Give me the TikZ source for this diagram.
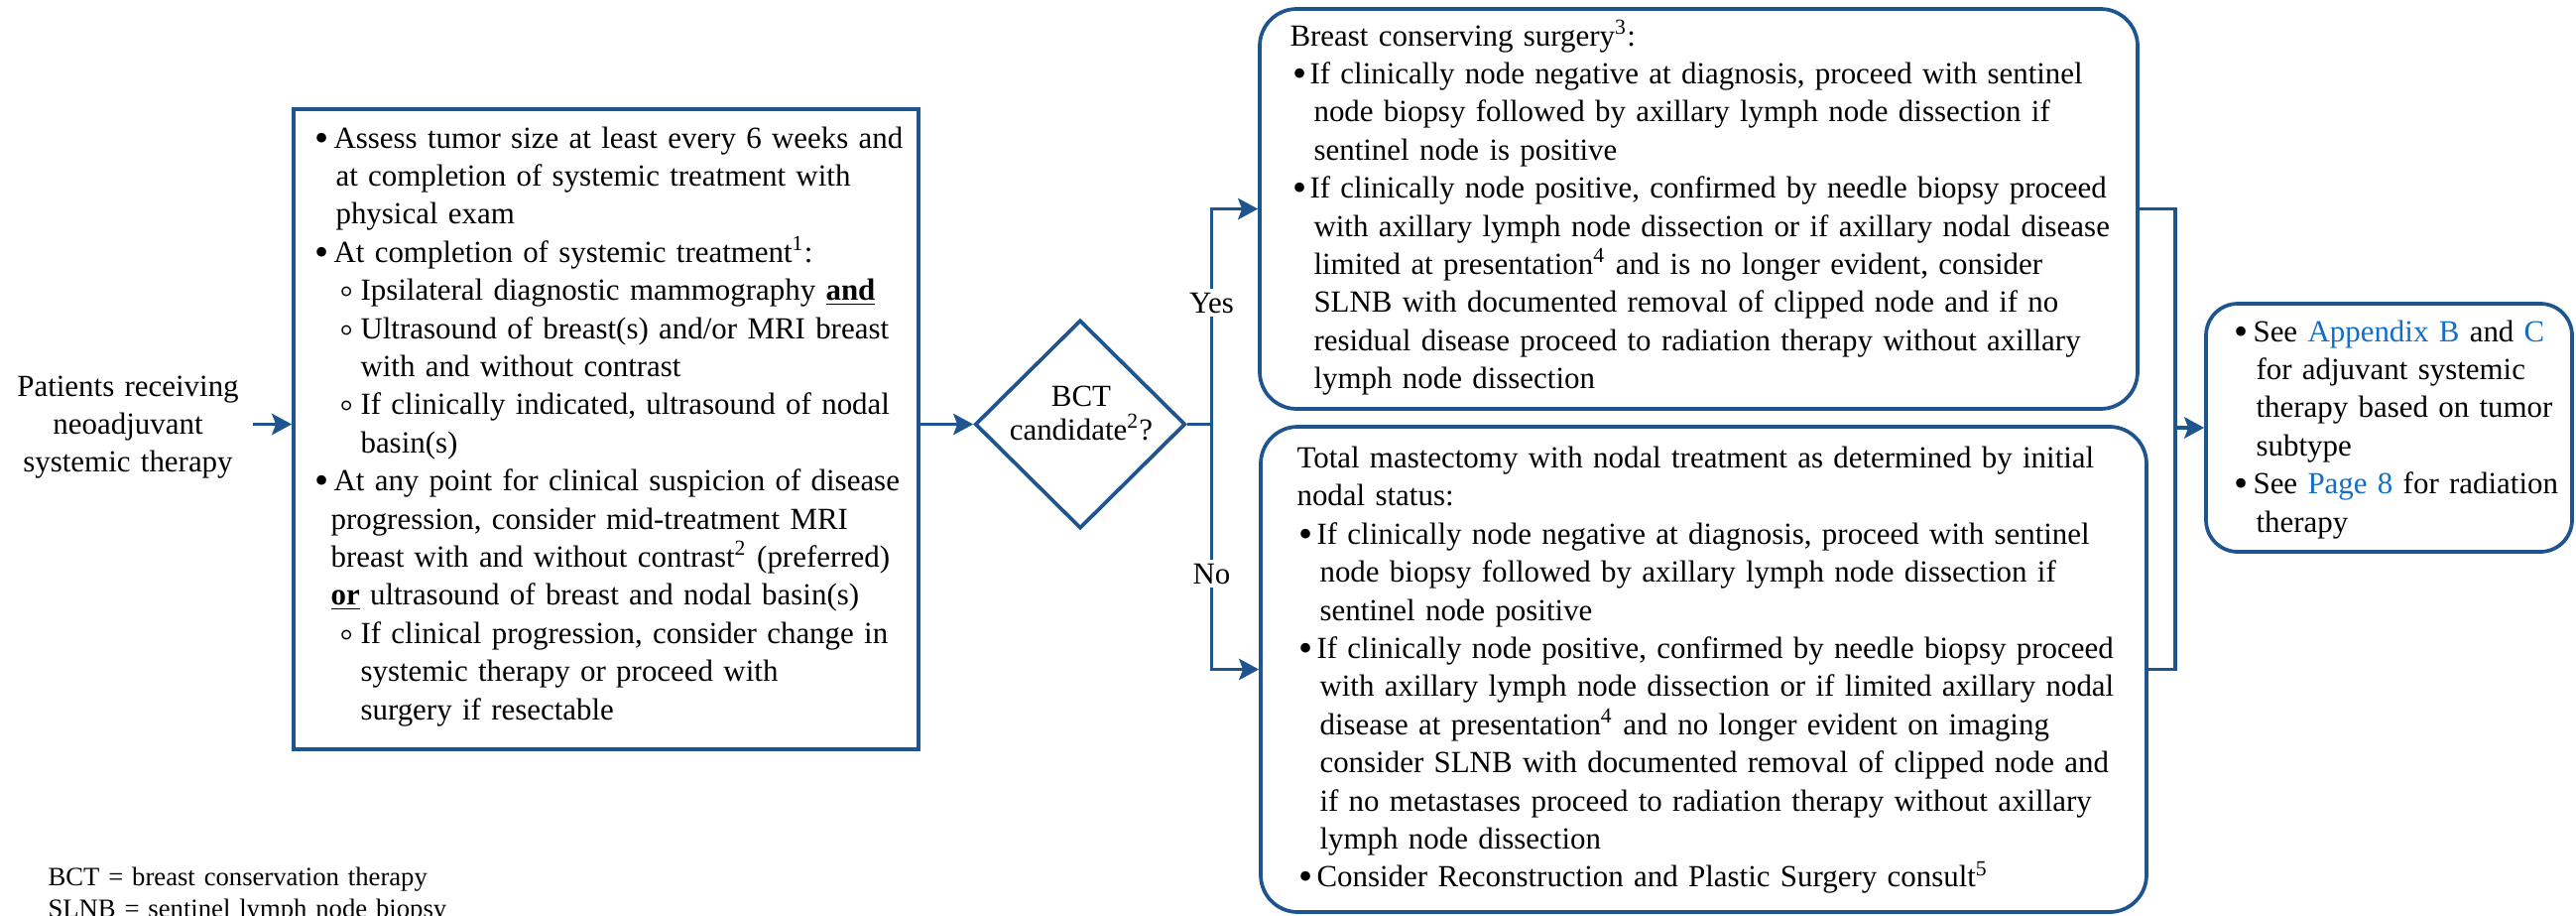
\documentclass[tikz,border=0pt]{standalone}
\usepackage{fontspec}
\usepackage{graphicx}
\setmainfont{Liberation Serif}
\usetikzlibrary{arrows.meta,shapes.geometric,fit}
\definecolor{bblue}{RGB}{31,85,143}
\definecolor{lblue}{RGB}{20,110,200}
\newdimen\px \px=0.375pt
\newcommand\Ln[2]{\noindent\hspace*{#1\px}#2\par}
\newcommand\Mk[4]{\noindent\hspace*{#1\px}\makebox[#2\px][l]{#3}#4\par}
\newcommand\Bu{\raisebox{-3\px}{\scalebox{1.3}{\textbullet}}}
\newcommand\Ci{\raisebox{-4\px}{\scalebox{1.3}{◦}}}
\newcommand\Cm[1]{\noindent\hspace*{32.5\px}\makebox[0pt][c]{\Ci}\hspace*{13.5\px}#1\par}
\newcommand\lk[1]{\textcolor{lblue}{#1}}
\tikzset{
  box/.style={draw=bblue, line width=1.4pt, inner sep=0pt},
  rbox/.style={box, rounded corners=14pt},
  conn/.style={draw=bblue, line width=1.3pt},
  arr/.style={conn, -{Stealth[length=7.5pt,width=8pt,inset=1.5pt]}},
  txt/.style={inner sep=0pt, text width=400pt, align=left, font=\fontsize{11.6}{14.4}\selectfont},
  lbl/.style={fill=white, inner sep=1.5pt, font=\fontsize{11.6}{14.4}\selectfont},
}
\begin{document}
\begin{tikzpicture}[x=0.375pt,y=-0.375pt]
\useasboundingbox (0,0) rectangle (2597,922);
\fill[white] (0,0) rectangle (2597,922);

% boxes
\node[box, fit={(296,110) (926,755)}] (lbox) {};
\node[draw=bblue, line width=1.4pt, diamond, minimum width=79.5pt, minimum height=78.75pt, inner sep=0pt] (dia) at (1089,427.5) {};
\node[rbox, fit={(1270,9) (2155,412)}] (tbox) {};
\node[rbox, fit={(1271,430) (2164,919)}] (bbox) {};
\node[rbox, rounded corners=12pt, fit={(2224,306) (2593,556)}] (fbox) {};

% texts
\node[txt, text width=93.75pt, align=center, anchor=base] (pat) at (129,399) {Patients receiving\\neoadjuvant\\systemic therapy};

\node[txt, anchor=base west] (ltext) at (317,149) {%
\Mk{0}{19}{\Bu}{Assess tumor size at least every 6 weeks and}
\Ln{21}{at completion of systemic treatment with}
\Ln{21}{physical exam}
\Mk{0}{19}{\Bu}{At completion of systemic treatment\textsuperscript{1}:}
\Cm{Ipsilateral diagnostic mammography \underline{\textbf{and}}}
\Cm{Ultrasound of breast(s) and/or MRI breast}
\Ln{46}{with and without contrast}
\Cm{If clinically indicated, ultrasound of nodal}
\Ln{46}{basin(s)}
\Mk{0}{19}{\Bu}{At any point for clinical suspicion of disease}
\Ln{16}{progression, consider mid-treatment MRI}
\Ln{16}{breast with and without contrast\textsuperscript{2} (preferred)}
\Ln{16}{\underline{\textbf{or}} ultrasound of breast and nodal basin(s)}
\Cm{If clinical progression, consider change in}
\Ln{46}{systemic therapy or proceed with}
\Ln{46}{surgery if resectable}};

\node[txt, text width=75pt, align=center, anchor=base, font=\fontsize{11.6}{12.75}\selectfont] (dtext) at (1090,409) {BCT\\candidate\textsuperscript{2}?};

\node[txt, anchor=base west] (ttext) at (1300,46) {%
\Ln{0}{Breast conserving surgery\textsuperscript{3}:}
\Mk{3}{17}{\Bu}{If clinically node negative at diagnosis, proceed with sentinel}
\Ln{24}{node biopsy followed by axillary lymph node dissection if}
\Ln{24}{sentinel node is positive}
\Mk{3}{17}{\Bu}{If clinically node positive, confirmed by needle biopsy proceed}
\Ln{24}{with axillary lymph node dissection or if axillary nodal disease}
\Ln{24}{limited at presentation\textsuperscript{4} and is no longer evident, consider}
\Ln{24}{SLNB with documented removal of clipped node and if no}
\Ln{24}{residual disease proceed to radiation therapy without axillary}
\Ln{24}{lymph node dissection}};

\node[txt, anchor=base west] (btext) at (1307,471.5) {%
\Ln{0}{Total mastectomy with nodal treatment as determined by initial}
\Ln{0}{nodal status:}
\Mk{2}{18}{\Bu}{If clinically node negative at diagnosis, proceed with sentinel}
\Ln{23}{node biopsy followed by axillary lymph node dissection if}
\Ln{23}{sentinel node positive}
\Mk{2}{18}{\Bu}{If clinically node positive, confirmed by needle biopsy proceed}
\Ln{23}{with axillary lymph node dissection or if limited axillary nodal}
\Ln{23}{disease at presentation\textsuperscript{4} and no longer evident on imaging}
\Ln{23}{consider SLNB with documented removal of clipped node and}
\Ln{23}{if no metastases proceed to radiation therapy without axillary}
\Ln{23}{lymph node dissection}
\Mk{2}{18}{\Bu}{Consider Reconstruction and Plastic Surgery consult\textsuperscript{5}}};

\node[txt, anchor=base west] (ftext) at (2252,344) {%
\Mk{0}{19}{\Bu}{See \lk{Appendix B} and \lk{C}}
\Ln{22}{for adjuvant systemic}
\Ln{22}{therapy based on tumor}
\Ln{22}{subtype}
\Mk{0}{19}{\Bu}{See \lk{Page 8} for radiation}
\Ln{22}{therapy}};

\node[txt, anchor=base west, font=\fontsize{10}{12}\selectfont] (notes) at (48,892) {BCT = breast conservation therapy\\SLNB = sentinel lymph node biopsy};

% connectors
\coordinate (split) at (1221.5,427.5);
\coordinate (merge) at (2193,431);
\draw[arr] (pat.east |- dia.west) -- (lbox.west |- dia.west);
\draw[arr] (lbox.east |- dia.west) -- (dia.west);
\draw[conn] (dia.east) -- (split);
\draw[arr] (split) |- (tbox.west);
\draw[arr] (split) |- (bbox.west);
\draw[conn] (tbox.east) -| (merge);
\draw[conn] (bbox.east) -| (merge);
\draw[arr] (merge) -- (fbox.west);
\node[lbl, anchor=base] (yes) at (1221.5,315) {Yes};
\node[lbl, anchor=base] (no) at (1221.5,588) {No};
\end{tikzpicture}
\end{document}
